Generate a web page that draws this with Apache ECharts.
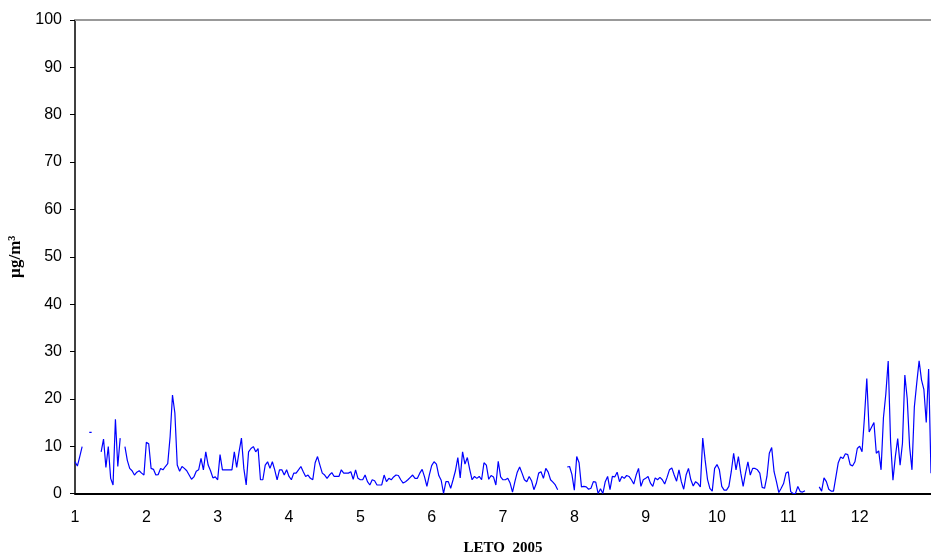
<!DOCTYPE html>
<html>
<head>
<meta charset="utf-8">
<title>LETO 2005</title>
<script src="https://cdn.jsdelivr.net/npm/echarts@6/dist/echarts.min.js"></script>
<style>
  html, body { margin: 0; padding: 0; background: #fff; }
  #chart { width: 931px; height: 558px; }
</style>
</head>
<body>
<div id="chart"></div>
<script>
// Daily concentrations (µg/m³), 30 samples per month; null = missing day
const jan = [6.7,5.8,7.8,9.9,null,null,12.9,12.9,null,null,null,8.8,11.5,5.5,9.9,3.2,1.8,15.7,5.7,11.7,null,9.9,7,5.3,4.8,3.9,4.5,4.8,4.3,3.9];
const feb = [10.8,10.5,5.3,5.1,3.9,4,5.3,5,5.7,6.3,12,20.8,17,6,4.7,5.7,5.3,4.8,3.9,3,3.5,4.7,5,7.4,5,8.8,6,4.8,3.3,3.5];
const mar = [2.9,8.2,5,5,5,5,5,8.8,5.5,8.8,11.7,5.3,1.8,8.8,9.5,9.9,8.8,9.5,2.9,2.9,6,6.7,5.3,6.7,5,2.9,5,5,3.9,5];
const apr = [3.6,2.9,4.3,4.3,5,5.7,4.6,3.6,3.9,3.2,2.9,6.5,7.8,6,4.3,3.9,3.2,3.9,4.4,3.6,3.6,3.6,5,4.3,4.3,4.3,4.6,3,5,3.2];
const may = [2.9,2.9,3.9,2.5,1.8,2.9,2.7,1.8,1.8,1.8,3.9,2.5,3.2,2.9,3.5,3.9,3.8,2.9,2.2,2.5,2.9,3.4,3.9,3.2,3.2,4.3,5.1,3.5,1.5,3.9];
const jun = [5.9,6.7,6.2,3.8,2.8,0,2.5,2.5,1.1,2.9,4.8,7.6,3.3,8.8,6.2,7.6,5.1,2.9,3.6,3.2,3.6,2.9,6.5,6,3,3.8,3.5,1.8,6.8,3.5];
const jul = [2.9,2.9,3.2,2.2,0.3,2.5,4.5,5.6,4.3,2.9,2.5,3.6,2.7,0.8,2.1,4.3,4.6,3.2,5.3,4.5,2.9,2.4,1.8,0.8,null,null,null,5.6,5.7,4];
const aug = [0.7,7.8,6.5,1.4,1.5,1.4,0.9,1.1,2.5,2.4,0,1,0,2.5,3.6,0.8,3.6,3.5,4.5,2.5,3.6,3.2,3.8,3.6,2.9,2,3.9,5.3,1.5,2.9];
const sep = [3.2,3.6,2.2,1.5,3.3,2.9,3.4,2.9,2,3.4,5,5.4,3.9,2.6,5,2.5,0.9,3.9,5.3,2.9,1.6,2.5,2.1,1.4,11.7,7.1,3,1.1,0.5,5.3];
const oct = [6.1,5,1.5,0.7,0.7,1.5,4.6,8.5,5,7.8,4.3,1.5,4.3,6.7,3.9,5.3,5.3,5,4.3,1.3,1.1,3.6,8.5,9.7,4.6,2.5,0.2,1.1,2.1,4.3];
const nov = [4.6,0.4,0,0,1.5,0.4,0.3,0.6,null,null,null,null,null,1.4,0.5,3.3,2.5,0.9,0.5,0.5,3.5,6.5,7.7,7.4,8.4,8.2,6.1,5.8,6.7,9.5];
const dec = [10,8.8,16,24.3,13,14,15,8.5,9,5,16,21,28,11,2.8,7.8,11.6,6,10.6,25,20,9.9,5,18.3,23.3,28,24,22,15,26.3];
const lastValue = 4.3;

const monthTicks = [1,2,3,4,5,6,7,8,9,10,11,12];
const perMonth = 30;
const yMax = 100;

const values = [jan,feb,mar,apr,may,jun,jul,aug,sep,oct,nov,dec].flat().concat([lastValue]);
const seriesData = values.map((v, i) => [1 + i / perMonth, v]);

const chart = echarts.init(document.getElementById('chart'), null, { renderer: 'canvas' });
chart.setOption({
  animation: false,
  backgroundColor: '#ffffff',
  grid: { left: 75, right: 0, top: 20, bottom: 64.5, containLabel: false, outerBoundsMode: 'none' },
  xAxis: {
    type: 'value',
    min: 1,
    max: 13,
    interval: 1,
    name: 'LETO  2005',
    nameLocation: 'middle',
    nameGap: 47,
    nameTextStyle: { fontFamily: 'Liberation Serif', fontWeight: 'bold', fontSize: 15, color: '#000' },
    axisLine: { show: true, onZero: false, lineStyle: { color: '#000', width: 2 } },
    axisTick: { show: false },
    splitLine: { show: false },
    axisLabel: {
      margin: 16,
      fontFamily: 'Liberation Sans',
      fontSize: 16,
      color: '#000',
      showMaxLabel: false,
      formatter: v => (monthTicks.indexOf(v) >= 0 ? String(v) : '')
    }
  },
  yAxis: {
    type: 'value',
    min: 0,
    max: yMax,
    interval: 10,
    name: 'µg/m³',
    nameLocation: 'middle',
    nameGap: 50,
    nameRotate: 90,
    nameTextStyle: { fontFamily: 'Liberation Serif', fontWeight: 'bold', fontSize: 17, color: '#000' },
    axisLine: { show: true, lineStyle: { color: '#000', width: 1.5 } },
    axisTick: { show: true, inside: false, length: 5, lineStyle: { color: '#000', width: 1 } },
    splitLine: { show: false },
    axisLabel: { margin: 13, fontFamily: 'Liberation Sans', fontSize: 16, color: '#000' }
  },
  series: [{
    type: 'line',
    data: seriesData,
    showSymbol: false,
    connectNulls: false,
    lineStyle: { color: '#0000ff', width: 1.2 },
    itemStyle: { color: '#0000ff' },
    // plot-area top border
    markLine: {
      silent: true,
      symbol: ['none', 'none'],
      label: { show: false },
      lineStyle: { color: '#999999', width: 2, type: 'solid' },
      data: [{ yAxis: yMax }]
    }
  }]
});
</script>
</body>
</html>
